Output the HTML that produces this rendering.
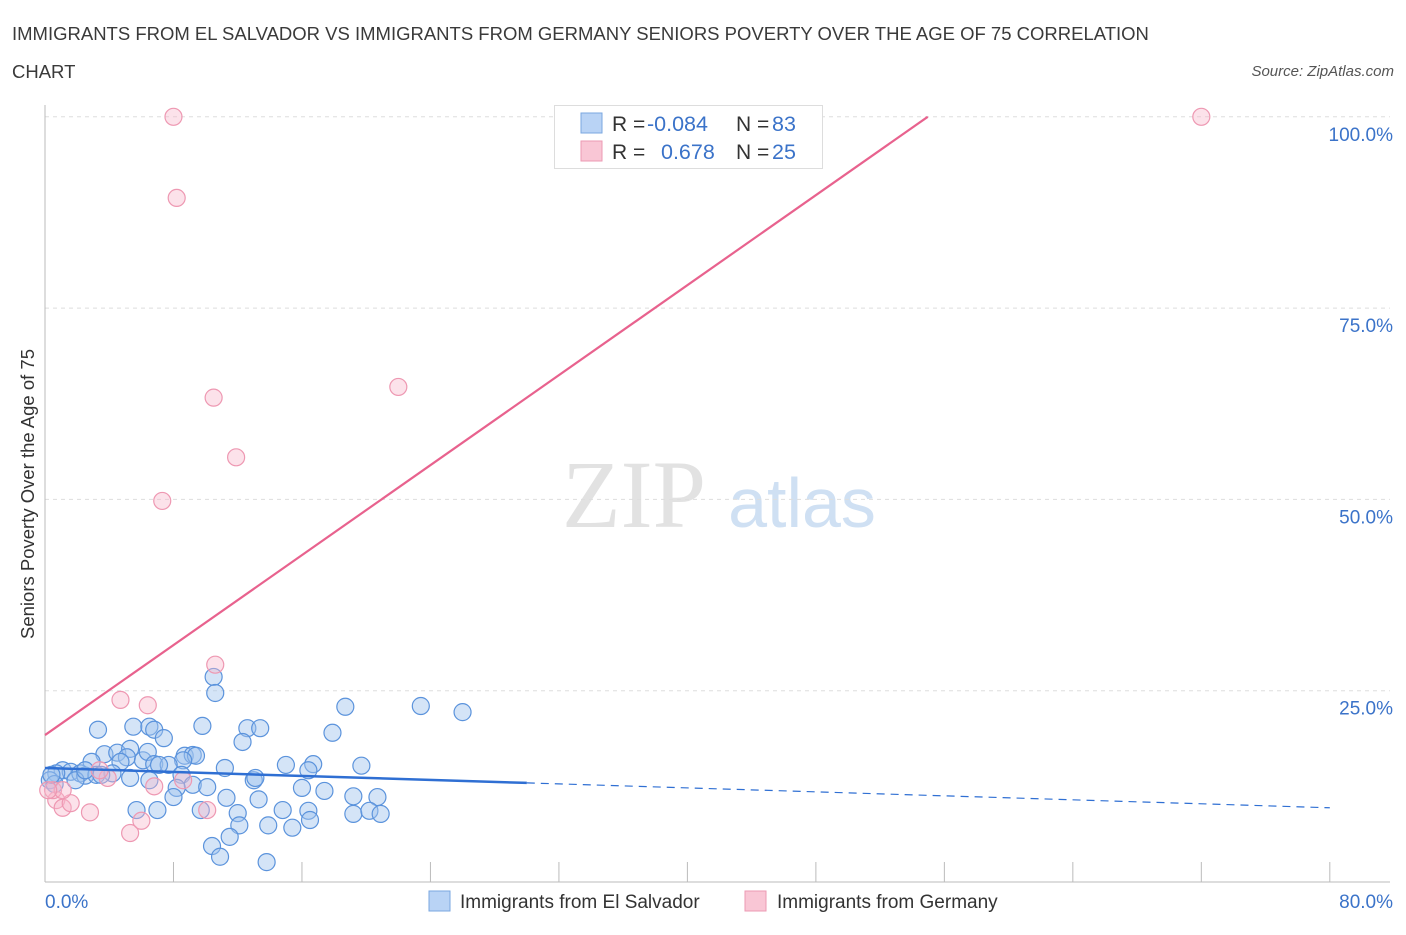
<!DOCTYPE html>
<html><head><meta charset="utf-8"><style>
body{margin:0;background:#fff;font-family:"Liberation Sans",sans-serif;}
svg text{font-family:"Liberation Sans",sans-serif;}
</style></head><body>
<svg id="chart" width="1406" height="930" viewBox="0 0 1406 930" xmlns="http://www.w3.org/2000/svg">
<text x="12" y="40" font-size="18.5" fill="#3a3a3a">IMMIGRANTS FROM EL SALVADOR VS IMMIGRANTS FROM GERMANY SENIORS POVERTY OVER THE AGE OF 75 CORRELATION</text>
<text x="12" y="78" font-size="18.5" fill="#3a3a3a">CHART</text>
<text x="1394" y="76" font-size="15" fill="#555" font-style="italic" text-anchor="end">Source: ZipAtlas.com</text>
<g>
<text x="634" y="527" font-size="96" fill="#e2e2e2" text-anchor="middle" style="font-family:'Liberation Serif',serif">ZIP</text>
<text x="802" y="527" font-size="70" fill="#cfe0f3" text-anchor="middle">atlas</text>
</g>
<g id="grid"></g><g id="axes"></g><g id="marks"></g>
<text transform="translate(34,494) rotate(-90)" font-size="18.5" fill="#333" text-anchor="middle">Seniors Poverty Over the Age of 75</text>
<text x="45" y="908" font-size="19" fill="#3b73c9">0.0%</text>
<text x="1393" y="908" font-size="19" fill="#3b73c9" text-anchor="end">80.0%</text>
<g>
<rect x="554.5" y="105.5" width="268" height="63" fill="#fff" stroke="#ddd"/>
<rect x="581" y="113" width="21" height="20" fill="#b9d3f5" stroke="#7aa7e0"/>
<rect x="581" y="141" width="21" height="20" fill="#f9c6d5" stroke="#ec9ab3"/>
<text x="612" y="131" font-size="21" fill="#333">R = </text><text x="647" y="131" font-size="21.5" fill="#3b73c9">-0.084</text>
<text x="736" y="131" font-size="21" fill="#333">N = </text><text x="772" y="131" font-size="21.5" fill="#3b73c9">83</text>
<text x="612" y="159" font-size="21" fill="#333">R = </text><text x="661" y="159" font-size="21.5" fill="#3b73c9">0.678</text>
<text x="736" y="159" font-size="21" fill="#333">N = </text><text x="772" y="159" font-size="21.5" fill="#3b73c9">25</text>
</g>
<g>
<rect x="429" y="891" width="21" height="20" fill="#b9d3f5" stroke="#7aa7e0"/>
<text x="460" y="908" font-size="19" fill="#333">Immigrants from El Salvador</text>
<rect x="745" y="891" width="21" height="20" fill="#f9c6d5" stroke="#ec9ab3"/>
<text x="777" y="908" font-size="19" fill="#333">Immigrants from Germany</text>
</g>
</svg>
<script>
const yTicks=[25,50,75,100];
const yTickLabels=["25.0%","50.0%","75.0%","100.0%"];
const xTicks=[0,8,16,24,32,40,48,56,64,72,80];
const blueX=[3.3,5.5,6.5,6.8,7.4,9.8,12.6,13.4,10.5,10.6,12.3,18.7,23.4,26.0,17.9,3.7,4.5,5.3,5.1,6.1,6.4,6.8,8.7,9.2,9.4,8.6,7.7,7.1,11.2,15.0,16.7,16.4,19.7,4.7,2.9,1.1,1.6,2.2,2.5,3.2,4.2,0.7,0.3,0.6,6.5,8.5,9.2,8.2,10.1,13.0,13.1,16.0,17.4,8.0,11.3,13.3,19.2,20.7,5.7,7.0,9.7,12.0,14.8,16.4,19.2,20.2,20.9,12.1,11.5,13.9,15.4,16.5,10.4,10.9,13.8,3.5,1.9,5.3,2.5,0.4];
const blueY=[19.9,20.3,20.3,19.9,18.8,20.4,20.1,20.1,26.8,24.7,18.3,22.9,23.0,22.2,19.5,16.7,16.9,17.4,16.3,15.9,17.0,15.4,16.5,16.6,16.5,15.9,15.3,15.3,14.9,15.3,15.4,14.6,15.2,15.7,15.7,14.6,14.4,14.2,13.9,14.0,14.2,14.2,13.3,12.8,13.3,14.0,12.7,12.3,12.4,13.3,13.6,12.3,11.9,11.1,11.0,10.8,11.2,11.1,9.4,9.4,9.4,9.0,9.4,9.3,8.9,9.3,8.9,7.4,5.9,7.4,7.1,8.1,4.7,3.3,2.6,14.0,13.3,13.6,14.6,14.0];
const pinkX=[8.0,8.2,10.5,11.9,7.3,22.0,72.0,39.9,10.6,4.7,6.4,0.7,1.1,1.6,2.8,5.3,6.0,6.8,10.1,8.6,3.9,3.4,0.5,1.1,0.2];
const pinkY=[100,89.4,63.3,55.5,49.8,64.7,100,100,28.4,23.8,23.1,10.7,9.7,10.3,9.1,6.4,8.0,12.5,9.4,13.3,13.6,14.6,12.0,12.0,12.0];
const blueTrend=[14.9,9.7]; // at x=0 and x=80
const pinkTrend=[19.2,78.0]; // at x=0 and x=40
const NS="http://www.w3.org/2000/svg";
function sx(v){return 45+v*16.06;}
function sy(v){return 882-v*7.652;}
function mk(tag,attrs,parent){const e=document.createElementNS(NS,tag);for(const k in attrs)e.setAttribute(k,attrs[k]);parent.appendChild(e);return e;}
const grid=document.getElementById('grid'),axes=document.getElementById('axes'),marks=document.getElementById('marks');
yTicks.forEach((t,i)=>{
  const l=mk('line',{x1:45,x2:1390,y1:sy(t),y2:sy(t),stroke:'#ddd','stroke-dasharray':'4,4'},grid);
  
  
  const tx=mk('text',{x:1393,y:sy(t)+24,'font-size':19,fill:'#3b73c9','text-anchor':'end'},grid);
  tx.textContent=yTickLabels[i];
  
  
});
const ax=mk('line',{x1:45,x2:45,y1:105,y2:882,stroke:'#bbb'},axes);


const bx=mk('line',{x1:45,x2:1390,y1:882,y2:882,stroke:'#bbb'},axes);


xTicks.forEach(t=>{
  const l=mk('line',{x1:sx(t),x2:sx(t),y1:862,y2:882,stroke:'#bbb'},axes);
  
  
});
blueX.forEach((x,i)=>{
  const c=mk('circle',{cx:sx(x),cy:sy(blueY[i]),r:8.5,fill:'rgba(160,196,238,0.45)',stroke:'#5b93dc','stroke-width':1.2},marks);
  
  
});
pinkX.forEach((x,i)=>{
  const c=mk('circle',{cx:sx(x),cy:sy(pinkY[i]),r:8.5,fill:'rgba(247,183,203,0.4)',stroke:'#ee98b2','stroke-width':1.2},marks);
  
  
});
const bAt=x=>blueTrend[0]+(blueTrend[1]-blueTrend[0])*x/80;
const l1=mk('line',{x1:sx(0),y1:sy(bAt(0)),x2:sx(30),y2:sy(bAt(30)),stroke:'#2f6fd3','stroke-width':2.5},marks);


const l2=mk('line',{x1:sx(30),y1:sy(bAt(30)),x2:sx(80),y2:sy(bAt(80)),stroke:'#2f6fd3','stroke-width':1.2,'stroke-dasharray':'8,6'},marks);


const slope=(pinkTrend[1]-pinkTrend[0])/40;
const xEnd=(100-pinkTrend[0])/slope;
const l3=mk('line',{x1:sx(0),y1:sy(pinkTrend[0]),x2:sx(xEnd),y2:sy(100),stroke:'#e8628e','stroke-width':2.2},marks);


</script>
</body></html>
